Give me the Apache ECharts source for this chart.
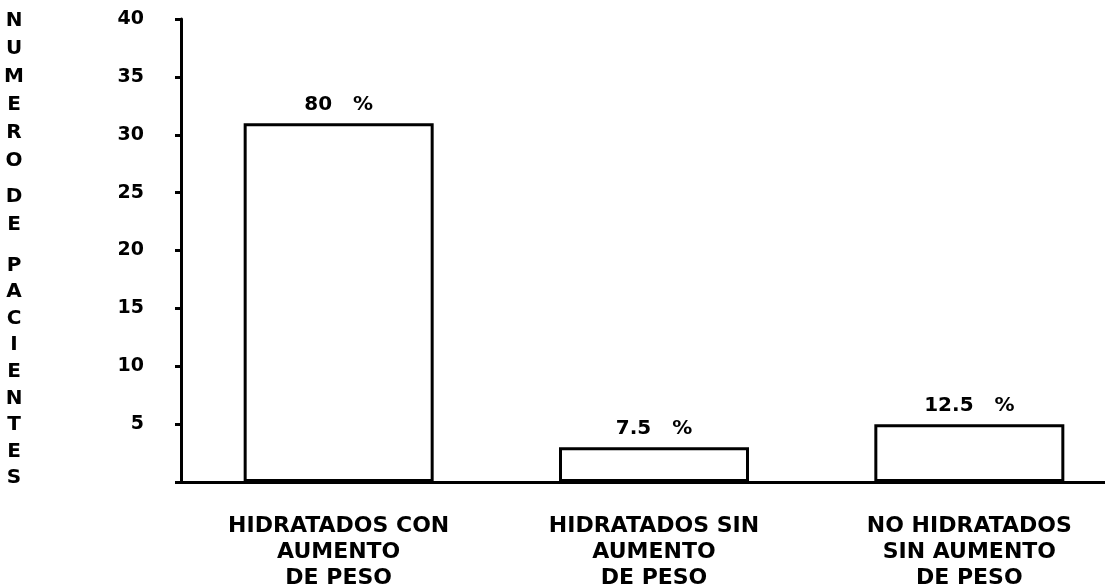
<!DOCTYPE html>
<html>
<head>
<meta charset="utf-8">
<script src="https://cdn.jsdelivr.net/npm/echarts@6/dist/echarts.min.js"></script>
<style>html,body{margin:0;padding:0;background:#fff}#c{width:1105px;height:586px}</style>
</head>
<body>
<div id="c"></div>
<script>
var categories = ["HIDRATADOS CON\nAUMENTO\nDE PESO", "HIDRATADOS SIN\nAUMENTO\nDE PESO", "NO HIDRATADOS\nSIN AUMENTO\nDE PESO"];
var pacientes = [31, 3, 5];
var porcentajes = ["80   %", "7.5   %", "12.5   %"];
var yTicks = [0, 5, 10, 15, 20, 25, 30, 35, 40];
var yNameWords = ["NUMERO", "DE", "PACIENTES"];

var FONT = "DejaVu Sans";
var chart = echarts.init(document.getElementById('c'), null, {renderer: 'canvas'});

var wordTops = [7, 183, 252];
var wordLH = [28, 28, 26.6];
var graphics = yNameWords.map(function (w, i) {
  return {
    type: 'text', x: 14, y: wordTops[i],
    style: {
      text: w.split('').join('\n'),
      font: 'bold 20px "' + FONT + '"',
      fill: '#000', lineHeight: wordLH[i], textAlign: 'center', textVerticalAlign: 'top'
    }
  };
});

chart.setOption({
  animation: false,
  backgroundColor: '#fff',
  grid: {left: 181, top: 19, width: 946, height: 463, containLabel: false, outerBoundsMode: 'none'},
  graphic: graphics,
  xAxis: {
    type: 'category', data: categories,
    axisLine: {lineStyle: {color: '#000', width: 3}},
    axisTick: {show: false},
    axisLabel: {color: '#000', fontFamily: FONT, fontWeight: 'bold', fontSize: 22, lineHeight: 26, margin: 31, interval: 0}
  },
  yAxis: {
    type: 'value', min: yTicks[0], max: yTicks[yTicks.length - 1], interval: yTicks[1] - yTicks[0],
    splitLine: {show: false},
    axisLine: {show: true, lineStyle: {color: '#000', width: 3}},
    axisTick: {show: true, length: 6, lineStyle: {color: '#000', width: 3}},
    axisLabel: {
      color: '#000', fontFamily: FONT, fontWeight: 'bold', fontSize: 19, margin: 37,
      formatter: function (v) { return v === 0 ? '' : String(v); }
    }
  },
  series: [{
    type: 'bar', data: pacientes, barWidth: 190,
    itemStyle: {color: '#fff', borderColor: '#000', borderWidth: 3},
    label: {
      show: true, position: 'top', distance: 8, color: '#000',
      fontFamily: FONT, fontWeight: 'bold', fontSize: 20,
      formatter: function (p) { return porcentajes[p.dataIndex]; }
    }
  }]
});
</script>
</body>
</html>
